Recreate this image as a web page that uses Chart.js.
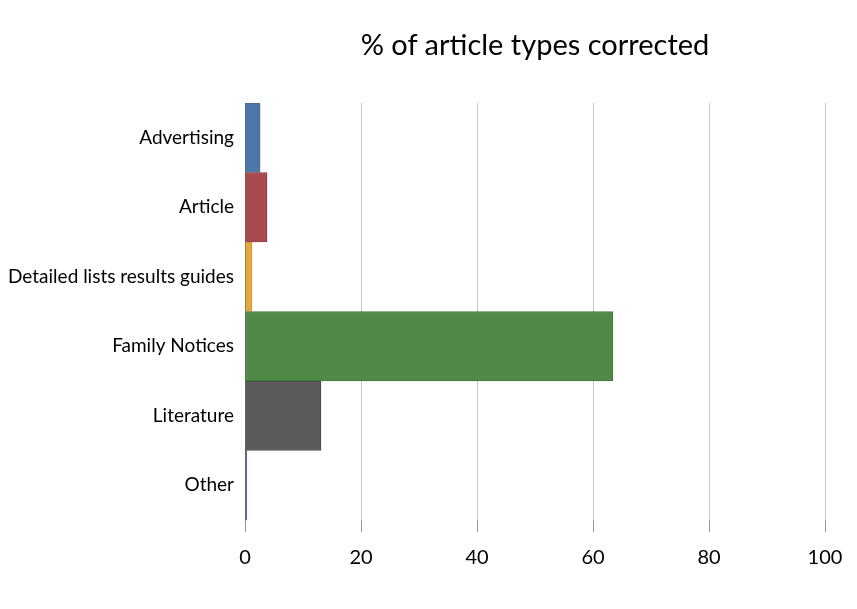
<!DOCTYPE html>
<html>
<head>
<meta charset="utf-8">
<script src="https://cdn.jsdelivr.net/npm/chart.js@4"></script>
<style>
  html, body { margin: 0; padding: 0; background: #fff; }
  #wrap { position: relative; width: 857px; height: 609px; }
  #title {
    position: absolute; left: 245px; top: 26px; width: 580px;
    text-align: center; font-family: Lato, sans-serif; font-size: 29px; color: #000;
  }
</style>
</head>
<body>
<div id="wrap">
  <canvas id="chart" width="857" height="609"></canvas>
  <div id="title">% of article types corrected</div>
</div>
<script>
let categories = ["Advertising", "Article", "Detailed lists results guides", "Family Notices", "Literature", "Other"];
let percentCorrected = [2.6, 3.8, 1.2, 63.4, 13.1, 0.3];
let barColors = ["#4b77a9", "#a84b4f", "#e6a83c", "#4f8a47", "#5b5b5b", "#7b5ca8"];
let edgeColors = ["#3d6694", "#8f3c40", "#cf9430", "#417a3a", "#4a4a4a", "#6a4f96"];
let xTicks = [0, 20, 40, 60, 80, 100];

let ctx = document.getElementById("chart").getContext("2d");
new Chart(ctx, {
    type: "bar",
    data: {
        labels: categories,
        datasets: [{
            label: "% corrected",
            data: percentCorrected,
            backgroundColor: barColors,
            borderColor: edgeColors,
            borderWidth: 1,
            barPercentage: 1,
            categoryPercentage: 1
        }]
    },
    options: {
        indexAxis: "y",
        responsive: false,
        animation: false,
        layout: { padding: { top: 103, right: 32, bottom: 0, left: 0 } },
        plugins: { legend: { display: false }, tooltip: { enabled: false } },
        scales: {
            x: {
                min: 0,
                max: 100,
                afterBuildTicks: function (axis) {
                    axis.ticks = xTicks.map(v => ({ value: v }));
                },
                grid: { color: "#c4c4c4", lineWidth: 1, tickLength: 12, drawTicks: true, tickColor: "#999" },
                border: { display: false },
                ticks: { font: { family: "Lato", size: 20 }, color: "#000", padding: 14, maxRotation: 0 },
                afterFit: function (axis) { axis.height = 89; }
            },
            y: {
                grid: { display: false, drawTicks: false, tickLength: 0 },
                border: { display: true, color: "#666", width: 1 },
                ticks: { font: { family: "Lato", size: 19 }, color: "#000", padding: 11 },
                afterFit: function (axis) { axis.width = 245; }
            }
        }
    }
});
</script>
</body>
</html>
